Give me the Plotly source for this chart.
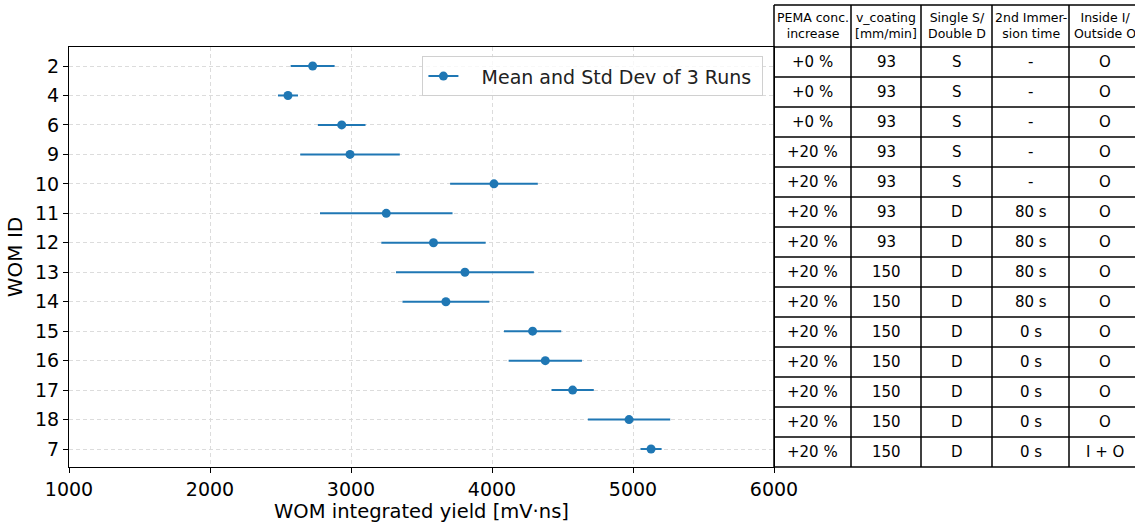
import plotly.graph_objects as go

# ---- data ----
wom_ids = ["2", "4", "6", "9", "10", "11", "12", "13", "14", "15", "16", "17", "18", "7"]
means = [2728, 2553, 2934, 2993, 4014, 3250, 3585, 3808, 3673, 4288, 4378, 4572, 4972, 5128]
stds = [156, 71, 169, 353, 311, 470, 370, 489, 308, 203, 260, 150, 292, 75]

col_headers = ["PEMA conc.<br>increase", "v_coating<br>[mm/min]", "Single S/<br>Double D",
               "2nd Immer-<br>sion time", "Inside I/<br>Outside O"]
pema = ["+0 %"] * 3 + ["+20 %"] * 11
v_coating = ["93"] * 7 + ["150"] * 7
single_double = ["S"] * 5 + ["D"] * 9
immersion = ["-"] * 5 + ["80 s"] * 4 + ["0 s"] * 5
inside_outside = ["O"] * 13 + ["I + O"]

x_ticks = [1000, 2000, 3000, 4000, 5000, 6000]

# ---- layout geometry ----
W, H = 1135, 523
ML, MR, MT, MB = 69, 361, 47, 56
PW = W - ML - MR
PH = H - MT - MB
BLUE = "#1f77b4"
FONT = "DejaVu Sans"

def px_to_paper_x(px):
    return (px - ML) / PW

def px_to_paper_y(py):
    return (H - MB - py) / PH

fig = go.Figure()

fig.add_trace(go.Scatter(
    x=means, y=wom_ids, mode="markers",
    marker=dict(color=BLUE, size=9),
    error_x=dict(type="data", array=stds, visible=True, color=BLUE, thickness=2, width=0),
    showlegend=False, cliponaxis=False,
))
# legend entry
fig.add_trace(go.Scatter(
    x=[None], y=[None], mode="lines+markers",
    marker=dict(color=BLUE, size=9), line=dict(color=BLUE, width=2),
    name="   Mean and Std Dev of 3 Runs ", showlegend=True,
))

shapes = []
annotations = []
col_px = [774, 851, 921, 992, 1069, 1200]
col_x = [px_to_paper_x(p) for p in col_px]
n = len(wom_ids)
header_top = px_to_paper_y(5)
LINE = dict(color="black", width=1.5)

# horizontal lines
for i in range(n + 2):
    if i == 0:
        yy = header_top
    else:
        yy = 1 - (i - 1) / n
    shapes.append(dict(type="line", xref="paper", yref="paper", x0=col_x[0], x1=col_x[-1],
                       y0=yy, y1=yy, line=LINE, layer="above"))
# vertical lines
for cx in col_x:
    shapes.append(dict(type="line", xref="paper", yref="paper", x0=cx, x1=cx,
                       y0=0, y1=header_top, line=LINE, layer="above"))

centers = [px_to_paper_x(p) for p in [812.5, 886, 956.5, 1030.5, 1105]]
for c, htxt in zip(centers, col_headers):
    annotations.append(dict(xref="paper", yref="paper", x=c, y=(1 + header_top) / 2,
                            text=htxt, showarrow=False, xanchor="center", yanchor="middle",
                            font=dict(family=FONT, size=12.5, color="black")))
cols = [pema, v_coating, single_double, immersion, inside_outside]
for c, col in zip(centers, cols):
    for i, val in enumerate(col):
        annotations.append(dict(xref="paper", yref="paper", x=c, y=1 - (i + 0.5) / n,
                                text=val, showarrow=False, xanchor="center", yanchor="middle",
                                font=dict(family=FONT, size=15, color="black")))

fig.update_layout(
    width=W, height=H,
    margin=dict(l=ML, r=MR, t=MT, b=MB, pad=0, autoexpand=False),
    paper_bgcolor="white", plot_bgcolor="white",
    font=dict(family=FONT, color="black"),
    shapes=shapes, annotations=annotations,
    legend=dict(x=0.985, y=0.978, xanchor="right", yanchor="top",
                bgcolor="rgba(255,255,255,0.8)", bordercolor="#d0d0d0", borderwidth=1,
                font=dict(family=FONT, size=19, color="#222222"), itemwidth=30),
    xaxis=dict(range=[1000, 6000], tickvals=x_ticks, ticktext=[str(v) for v in x_ticks],
               automargin=False,
               showgrid=True, gridcolor="#dcdcdc", griddash="4px,3px", gridwidth=1,
               showline=True, linecolor="black", linewidth=1.2, mirror=True,
               ticks="outside", ticklen=5, tickcolor="black",
               tickfont=dict(family=FONT, size=19, color="black"),
               title=dict(text="WOM integrated yield [mV·ns]", standoff=2,
                          font=dict(family=FONT, size=19.5, color="black")),
               zeroline=False),
    yaxis=dict(type="category", categoryorder="array", categoryarray=wom_ids,
               range=[n - 1 + 0.61, -0.645], automargin=False,
               showgrid=True, gridcolor="#dcdcdc", griddash="4px,3px", gridwidth=1,
               showline=True, linecolor="black", linewidth=1.2, mirror=True,
               ticks="outside", ticklen=5, tickcolor="black",
               tickfont=dict(family=FONT, size=19, color="black"),
               title=dict(text="WOM ID", standoff=6,
                          font=dict(family=FONT, size=20, color="black")),
               zeroline=False),
)

fig.write_html("out.html")
